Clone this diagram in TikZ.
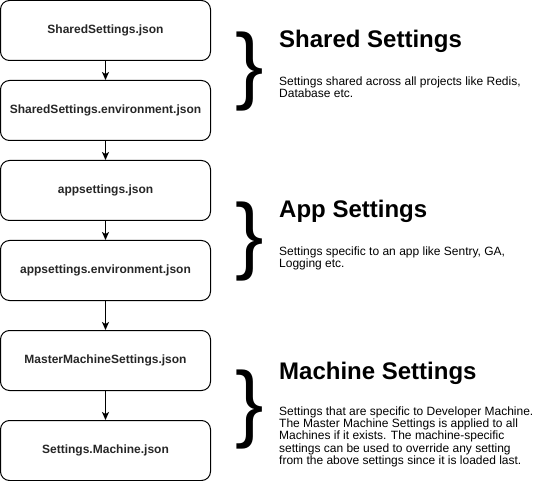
\documentclass[tikz,border=0pt]{standalone}
\usepackage{fontspec}
\setmainfont{Liberation Sans}
\usetikzlibrary{arrows.meta}
\begin{document}
\begin{tikzpicture}[x=1pt,y=-1pt,
  filebox/.style={draw, line width=1pt, rounded corners=9pt, minimum width=210pt, minimum height=60pt, inner sep=0pt, font=\fontsize{12}{14}\selectfont\bfseries, text=black!85},
  flow/.style={-{Stealth[length=8pt,width=7pt,inset=2pt]}, line width=1pt},
  brace/.style={inner sep=0pt, anchor=center, font=\fontsize{85}{85}\selectfont},
  title/.style={inner sep=0pt, anchor=base west, font=\fontsize{24}{28}\selectfont\bfseries},
  desc/.style={inner sep=0pt, anchor=north west, align=left, font=\fontsize{12}{12.2}\selectfont}]
\useasboundingbox (0,0) rectangle (541,481);
% file boxes
\node[filebox] (f1) at (105.5,30.5) {SharedSettings.json};
\node[filebox] (f2) at (105.5,110.5) {SharedSettings.environment.json};
\node[filebox] (f3) at (105.5,190.5) {appsettings.json};
\node[filebox] (f4) at (105.5,270.5) {appsettings.environment.json};
\node[filebox] (f5) at (105.5,360.5) {MasterMachineSettings.json};
\node[filebox] (f6) at (105.5,450.5) {Settings.Machine.json};
% arrows
\draw[flow] (f1) -- (f2);
\draw[flow] (f2) -- (f3);
\draw[flow] (f3) -- (f4);
\draw[flow] (f4) -- (f5);
\draw[flow] (f5) -- (f6);
% group 1
\node[brace] (b1) at (250,72) {\}};
\node[title] (t1) at (279,48) {Shared Settings};
\node[desc] (d1) at (279,76.7) {Settings shared across all projects like Redis,\\Database etc.};
% group 2
\node[brace] (b2) at (250,242) {\}};
\node[title] (t2) at (279,218) {App Settings};
\node[desc] (d2) at (279,246.7) {Settings specific to an app like Sentry, GA,\\Logging etc.};
% group 3
\node[brace] (b3) at (250,410) {\}};
\node[title] (t3) at (279,379) {Machine Settings};
\node[desc] (d3) at (279,406.7) {Settings that are specific to Developer Machine.\\The Master Machine Settings is applied to all\\Machines if it exists. The machine-specific\\settings can be used to override any setting\\from the above settings since it is loaded last.};
\end{tikzpicture}
\end{document}
